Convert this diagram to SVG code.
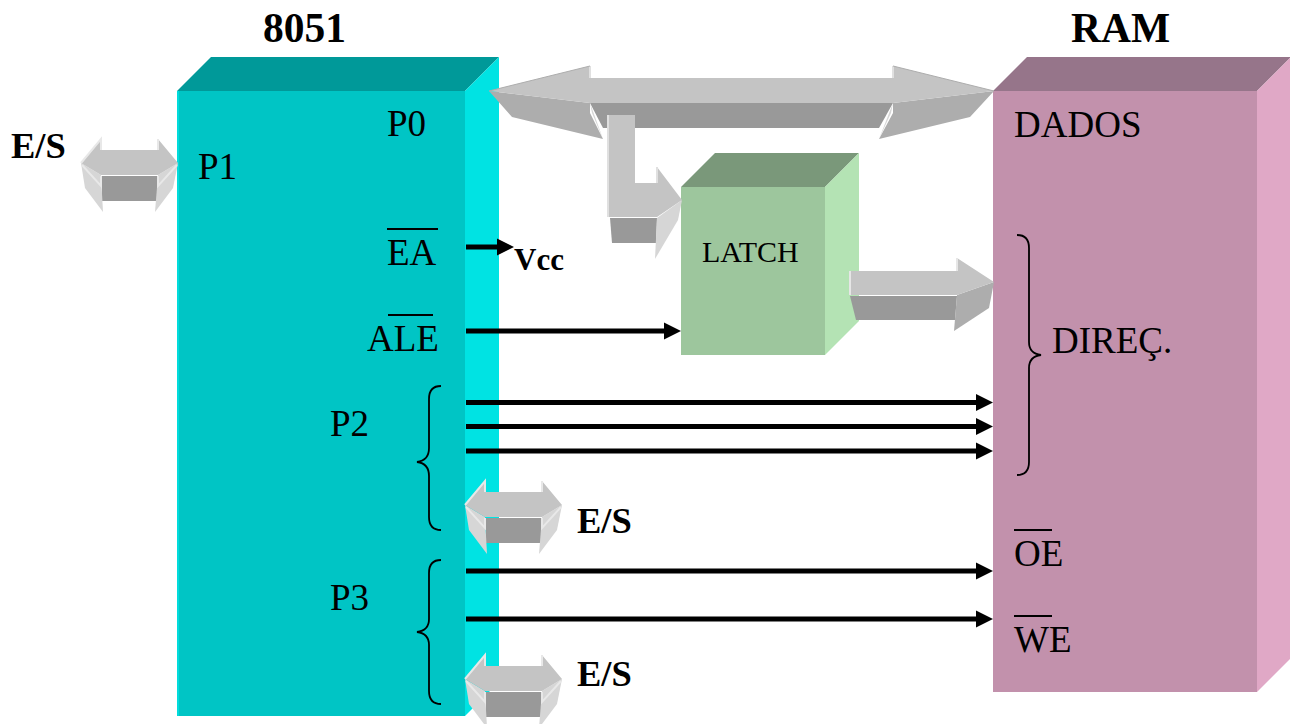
<svg xmlns="http://www.w3.org/2000/svg" width="1290" height="724" viewBox="0 0 1290 724">
<style>
text{font-family:"Liberation Serif","Times New Roman",serif;fill:#000}
.t{font-size:37px}
.b{font-size:36.500px;font-weight:bold}
.h{font-size:41.500px;font-weight:bold}
.ov{stroke:#000;stroke-width:2;fill:none}
.br{stroke:#000;stroke-width:1.8;fill:none}
.w{stroke:#000;stroke-width:5;fill:none;marker-end:url(#ah)}
.f{fill:#c4c4c4}
.d{fill:#999}
.m{fill:#adadad}
.l{fill:#d6d6d6}
.e{stroke:#e8e8e8;stroke-width:2;fill:none}
</style>
<defs>
<marker id="ah" markerUnits="userSpaceOnUse" markerWidth="18" markerHeight="18" refX="0" refY="9" orient="auto"><path d="M0 .5L17 9L0 17.500z" fill="#000"/></marker>
<g id="sa">
<rect class="d" x="102" y="176" width="55" height="25"/>
<polygon class="l" points="81,163 101,175 103,212 85,188"/>
<polygon class="l" points="178,163 158,175 155,212 173,188"/>
<path class="e" d="M82 165L101 186V176M158 176V186L177 165"/>
<polygon class="f" points="81,163 101,139 101,150 158,150 158,139 178,163 158,175 101,175"/>
<path class="e" d="M81 163L101 139V150M158 150V139"/>
</g>
</defs>
<rect width="1290" height="724" fill="#fff"/>
<g id="node-8051">
<polygon points="177,91 211,57 499,57 465,91" fill="#009999"/>
<polygon points="465,91 499,57 499,682 465,716" fill="#00e3e3"/>
<rect x="177" y="91" width="288" height="625" fill="#00c5c5"/>
<path d="M178 91V716" stroke="#00dcdc" stroke-width="2"/>
<text class="h" x="263" y="42">8051</text>
<text class="t" x="387" y="136">P0</text>
<text class="t" x="198" y="179">P1</text>
<text class="t" x="387" y="265">EA</text>
<path class="ov" d="M387 229H438"/>
<text class="t" x="367" y="351">ALE</text>
<path class="ov" d="M388 315H433"/>
<text class="t" x="330" y="436">P2</text>
<text class="t" x="330" y="610">P3</text>
<path class="br" d="M441 386C433 386 429 391 429 399V448C429 456 425 461 417 462C425 463 429 468 429 476V517C429 525 433 530 441 530"/>
<path class="br" d="M441 560C433 560 429 565 429 573V619C429 627 425 631 417 632C425 633 429 637 429 645V691C429 699 433 704 441 704"/>
</g>
<g id="node-ram">
<polygon points="993,91 1027,57 1291,57 1257,91" fill="#96758a"/>
<polygon points="1257,91 1291,57 1291,658 1257,692" fill="#e0a8c6"/>
<rect x="993" y="91" width="264" height="601" fill="#c291ac"/>
<text class="h" x="1071" y="42">RAM</text>
<text class="t" x="1014" y="137">DADOS</text>
<text class="t" x="1052" y="353">DIREÇ.</text>
<text class="t" x="1014" y="566">OE</text>
<path class="ov" d="M1014 530H1052"/>
<text class="t" x="1014" y="652">WE</text>
<path class="ov" d="M1014 616H1052"/>
<path class="br" d="M1017 235C1025 235 1029 240 1029 248V342C1029 350 1033 354 1041 355C1033 356 1029 360 1029 368V462C1029 470 1025 475 1017 475"/>
</g>
<g id="node-latch">
<polygon points="681,187 715,153 859,153 825,187" fill="#7a987a"/>
<polygon points="825,187 859,153 859,321 825,355" fill="#b4e3b4"/>
<rect x="681" y="187" width="144" height="168" fill="#9dc69d"/>
<text x="702" y="262" font-size="30">LATCH</text>
</g>
<g id="connectors">
<g id="bus-main">
<polygon class="d" points="590,103 893,103 879,128 603,128"/>
<polygon class="m" points="489,91 590,103 590,113 603,139 512,117"/>
<polygon class="m" points="994,91 893,103 893,113 879,139 970,117"/>
<polygon class="l" points="590,103 592,113 603,139"/>
<polygon class="l" points="893,103 891,113 879,139"/>
<polygon class="f" points="489,91 590,66 590,78 893,78 893,66 994,91 893,103 590,103"/>
<path d="M590 66V78M893 78V66" stroke="#e0e0e0" stroke-width="2" fill="none"/>
<path d="M590 66L489 91M893 66L994 91" stroke="#adadad" stroke-width="1" fill="none"/>
</g>
<g id="bus-latch-in">
<polygon class="d" points="610,218 657,218 656,243 612,243"/>
<polygon class="l" points="682,200 657,218 655,259 678,220"/>
<polygon class="f" points="608,115 635,115 635,183 657,183 657,167 682,200 657,217 608,217"/>
<path d="M608 115V217" stroke="#e0e0e0" stroke-width="2" fill="none"/>
<path d="M657 183V167" stroke="#e0e0e0" stroke-width="2" fill="none"/>
</g>
<g id="bus-latch-out">
<polygon class="d" points="850,296 957,296 955,320 856,320"/>
<polygon class="m" points="994,282 957,295 954,331 989,308"/>
<polygon class="f" points="849,271 957,271 957,258 994,282 957,295 849,295"/>
<path d="M850 271V295M957 271V258" stroke="#e6e6e6" stroke-width="2" fill="none"/>
</g>
<use href="#sa"/>
<use href="#sa" x="384" y="342"/>
<use href="#sa" x="384" y="516"/>
<path class="w" d="M466 247H497"/>
<path class="w" d="M466 331H664"/>
<path class="w" d="M466 402.500H976"/>
<path class="w" d="M466 426.500H976"/>
<path class="w" d="M466 451H976"/>
<path class="w" d="M466 571H976"/>
<path class="w" d="M466 619H976"/>
</g>
<g id="labels">
<text class="b" x="11" y="158">E/S</text>
<text class="b" x="577" y="533">E/S</text>
<text class="b" x="577" y="686">E/S</text>
<text x="514" y="270" font-size="31" font-weight="bold">Vcc</text>
</g>
</svg>
